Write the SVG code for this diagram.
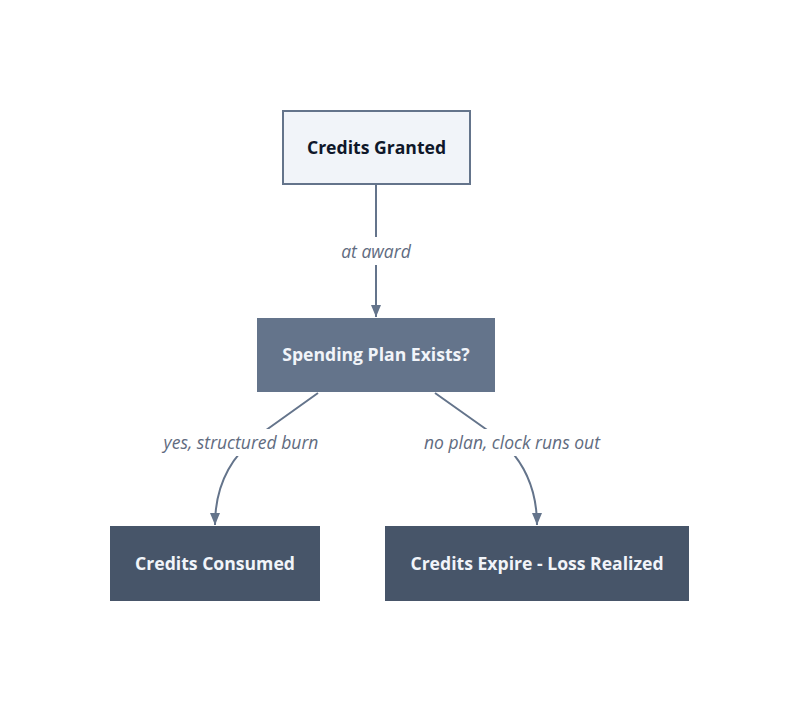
<svg xmlns="http://www.w3.org/2000/svg" width="800" height="712" viewBox="0 0 800 712">
<style>
.nt{font-family:"Open Sans","Liberation Sans",sans-serif;font-size:17.6px;font-weight:700;text-anchor:middle;dominant-baseline:central}
.el{font-family:"Open Sans","Liberation Sans",sans-serif;font-size:17.5px;font-style:italic;fill:#5f6b80;text-anchor:middle;dominant-baseline:central}
.edge{fill:none;stroke:#64748b;stroke-width:2}
.lbg{fill:#ffffff}
</style>
<defs>
<marker id="arr" viewBox="0 0 12 10" refX="12" refY="5" markerWidth="12" markerHeight="10" markerUnits="userSpaceOnUse" orient="auto">
<path d="M0,0 L12,5 L0,10 z" fill="#64748b"/>
</marker>
</defs>
<rect width="800" height="712" fill="#ffffff"/>
<g id="connectors">
<path class="edge" d="M376,184 L376,317" marker-end="url(#arr)"/>
<path class="edge" d="M318,393 L262,433 Q215,466 215,525" marker-end="url(#arr)"/>
<path class="edge" d="M435,393 L490,432 Q537,466 537,525" marker-end="url(#arr)"/>
<rect class="lbg" x="336" y="237" width="80" height="28"/>
<text class="el" x="376" y="250.5">at award</text>
<rect class="lbg" x="160" y="429" width="162" height="27"/>
<text class="el" x="241" y="441.5">yes, structured burn</text>
<rect class="lbg" x="420" y="429" width="184" height="27"/>
<text class="el" x="512" y="441.5">no plan, clock runs out</text>
</g>
<g id="credits-granted">
<rect x="283" y="111" width="187" height="73" fill="#f1f4f9" stroke="#64748b" stroke-width="2"/>
<text class="nt" x="376.5" y="146.5" fill="#0f172a">Credits Granted</text>
</g>
<g id="spending-plan">
<rect x="257" y="318" width="238" height="74" fill="#64748b"/>
<text class="nt" x="376" y="354" fill="#f1f4f9">Spending Plan Exists?</text>
</g>
<g id="credits-consumed">
<rect x="110" y="526" width="210" height="75" fill="#475569"/>
<text class="nt" x="215" y="562.5" fill="#f1f4f9">Credits Consumed</text>
</g>
<g id="credits-expire">
<rect x="385" y="526" width="304" height="75" fill="#475569"/>
<text class="nt" x="537" y="562.5" fill="#f1f4f9">Credits Expire - Loss Realized</text>
</g>
</svg>
